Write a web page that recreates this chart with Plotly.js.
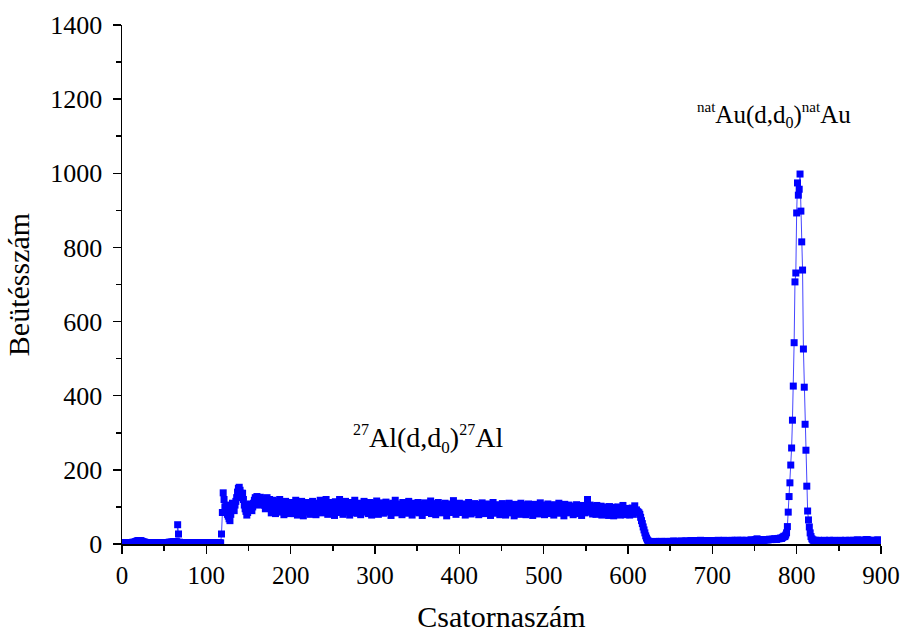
<!DOCTYPE html>
<html>
<head>
<meta charset="utf-8">
<script src="https://cdn.plot.ly/plotly-3.0.1.min.js"></script>
<style>html,body{margin:0;padding:0;background:#fff;}#chart{width:903px;height:633px;}</style>
</head>
<body>
<div id="chart"></div>
<script>
// Channel starts of each segment
const lowStart = 0, plateauStart = 118, midStart = 630, peakStart = 786, highStart = 820;

// Counts, low background (ch 0-117)
const lowCounts = [
2,3,2,3,4,3,2,3,4,3, 4,3,4,5,4,5,6,7,8,9, 9,8,9,8,7,6,5,5,4,4, 3,4,3,3,4,3,3,2,3,3,
3,2,3,3,2,3,3,2,3,3, 3,3,4,3,4,4,5,4,5,5, 5,6,5,6,5,6,52,27,5,4, 4,4,3,4,3,3,4,3,3,3,
3,2,3,3,3,2,3,3,2,3, 3,3,2,3,3,3,2,3,3,2, 3,3,2,3,3,2,3,3,3,2, 3,3,2,3,3,2,3,3];

// Counts, 27Al(d,d0) plateau (ch 118-629)
const plateauCounts = [
27,85,
138,120,100,90,105,80,75,68,63,80,
95,110,100,90,105,115,125,140,150,153,
145,137,128,137,120,105,95,88,78,85,
92,100,108,95,90,100,110,118,125,120,
128,115,105,120,126,118,110,122,115,105,
95,112,125,108,98,120,115,84,105,118,
100,112,82,105,115,92,108,120,86,100,
110,90,79,104,115,100,86,110,95,82,
105,112,95,100,82,108,118,97,78,102,
110,90,100,115,84,76,105,98,108,86,
100,112,95,80,106,99,115,88,102,110,
79,96,108,100,89,118,104,84,98,110,
95,102,120,86,80,105,112,97,100,84,
108,95,77,114,100,98,106,85,120,101,
90,110,80,103,97,115,86,100,108,95,
78,104,112,92,100,84,118,99,105,83,
102,90,110,79,106,97,100,115,86,104,
93,108,82,101,112,95,78,105,99,110,
87,100,116,97,80,106,101,90,111,98,
83,104,97,113,100,86,108,92,103,77,
99,110,88,102,118,96,84,105,100,87,
108,97,79,112,100,92,104,83,107,99,
115,88,101,94,78,110,102,95,87,106,
99,112,84,100,92,108,77,103,95,111,
89,100,107,85,104,98,116,82,101,93,
109,92,79,103,97,112,88,100,106,84,
98,105,87,110,95,76,102,93,108,100,
85,104,99,117,91,101,80,106,95,88,
110,98,85,103,93,108,100,78,105,99,
87,112,95,101,81,104,98,90,109,85,
100,93,107,79,103,99,88,111,95,102,
82,105,98,87,108,100,91,77,103,95,
112,88,100,96,83,106,94,104,79,101,
92,109,86,99,102,78,105,95,88,110,
98,84,103,93,100,76,107,91,101,85,
104,95,80,110,92,100,86,106,97,79,
102,90,108,84,99,95,104,77,100,88,
107,96,83,103,93,81,111,92,99,86,
101,79,105,95,87,108,93,100,82,104,
92,99,78,106,95,102,85,98,110,88,
83,103,94,99,76,107,90,100,85,97,
105,84,98,90,102,79,100,93,86,106,
95,82,101,92,99,77,104,88,97,84,
100,92,120,103,94,105,86,98,81,101,
90,97,80,104,88,99,83,96,102,78,
98,87,95,100,81,97,90,77,101,86,
96,84,99,76,92,97,85,80,100,88,
95,78,98,86,104,82,93,79,96,84,
82,94,78,92,85,97,80,93,103,86,
92,88,86,84,80,72,63,55,46,38,
30,22,16,11,8,7,6,6,5,6];

// Counts, background between the two peaks (ch 630-785)
const midCounts = [
6,5,6,7,6,5,6,7,6,6, 7,6,5,6,7,6,7,6,5,6, 6,7,6,7,8,7,6,7,6,7, 7,6,7,8,7,6,7,7,8,7,
8,7,6,7,8,9,8,7,8,7, 8,9,8,7,8,9,10,9,8,8, 7,8,9,8,7,8,9,8,9,8, 9,8,7,8,9,8,9,10,9,8,
8,9,8,9,10,9,8,9,8,9, 9,8,9,10,9,8,9,10,9,9, 10,9,8,9,10,9,10,9,8,9, 9,10,9,8,9,10,11,10,9,10,
10,11,12,14,12,10,11,10,11,10, 11,10,11,12,11,12,11,12,13,12, 12,13,12,13,14,13,12,14,15,14,
15,16,15,17,19,21];

// Counts, natAu(d,d0) peak (ch 786-819)
const peakCounts = [
20,24,30,47,86,128,165,213,259,334,426,543,707,731,893,974,941,957,998,898,
815,739,526,423,323,253,156,89,65,46,30,20,14,11];

// Counts, high background (ch 820-899)
const highCounts = [
10,9,10,9,8,9,10,9,8,9, 9,8,9,10,9,8,9,8,9,10, 9,8,9,8,10,9,8,9,8,9, 8,9,10,9,8,9,8,9,10,9,
9,8,9,10,9,8,9,10,9,8, 9,10,11,10,9,10,9,8,9,10, 10,9,11,12,11,10,9,10,9,8, 9,10,9,8,9,10,11,10,9,10];

// Axis ticks
const xTicks = [0,100,200,300,400,500,600,700,800,900];
const yTicks = [0,200,400,600,800,1000,1200,1400];

const segs = [[lowStart, lowCounts],[plateauStart, plateauCounts],[midStart, midCounts],[peakStart, peakCounts],[highStart, highCounts]];
const xs = [], ys = [];
segs.forEach(([s, arr]) => arr.forEach((v, i) => { xs.push(s + i); ys.push(v); }));

const serif = "'Liberation Serif', 'Times New Roman', Times, serif";

const trace = {
  x: xs, y: ys, type: 'scatter', mode: 'lines+markers',
  line: {color: 'rgb(70,70,255)', width: 1},
  marker: {symbol: 'square', size: 7, color: '#0000ff', line: {width: 0}},
  hoverinfo: 'skip'
};

const sup = (t, s) => '<sup><span style="font-size:' + s + 'px">' + t + '</span></sup>';
const sub = (t, s) => '<sub><span style="font-size:' + s + 'px">' + t + '</span></sub>';

const layout = {
  width: 903, height: 633,
  margin: {l: 122, r: 22, t: 25, b: 89},
  paper_bgcolor: '#fff', plot_bgcolor: '#fff',
  showlegend: false,
  font: {family: serif, color: '#000'},
  xaxis: {
    range: [0, 900], tickvals: xTicks, ticktext: xTicks.map(String),
    showgrid: false, zeroline: false, showline: true, linecolor: '#000', linewidth: 1.5,
    ticks: 'outside', ticklen: 8, tickwidth: 1.5, tickcolor: '#000',
    minor: {dtick: 50, ticks: 'outside', ticklen: 5, tickwidth: 1.5, tickcolor: '#000', showgrid: false},
    tickfont: {family: serif, size: 25, color: '#000'},
    title: {text: 'Csatornaszám', font: {family: serif, size: 30, color: '#000'}, standoff: 23}
  },
  yaxis: {
    range: [0, 1400], tickvals: yTicks, ticktext: yTicks.map(String),
    showgrid: false, zeroline: false, showline: true, linecolor: '#000', linewidth: 1.5,
    ticks: 'outside', ticklen: 8, tickwidth: 1.5, tickcolor: '#000', ticklabelstandoff: 5,
    minor: {dtick: 100, ticks: 'outside', ticklen: 5, tickwidth: 1.5, tickcolor: '#000', showgrid: false},
    tickfont: {family: serif, size: 26, color: '#000'},
    title: {text: 'Beütésszám', font: {family: serif, size: 30, color: '#000'}, standoff: 12}
  },
  annotations: [
    {x: 363, y: 282, xref: 'x', yref: 'y', showarrow: false,
     text: sup('27', 16) + 'Al(d,d' + sub('0', 17) + ')' + sup('27', 16) + 'Al', font: {family: serif, size: 28, color: '#000'}},
    {x: 773, y: 1158, xref: 'x', yref: 'y', showarrow: false,
     text: sup('nat', 15) + 'Au(d,d' + sub('0', 16) + ')' + sup('nat', 15) + 'Au', font: {family: serif, size: 25, color: '#000'}}
  ]
};

Plotly.newPlot('chart', [trace], layout, {displayModeBar: false, staticPlot: true});
</script>
</body>
</html>
